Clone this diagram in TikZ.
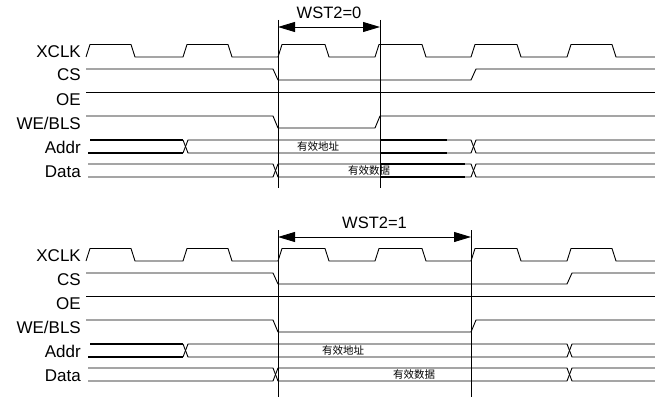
\documentclass[tikz,border=0pt]{standalone}
\usepackage{fontspec}
\setmainfont{Liberation Sans}
\newfontfamily\cjk{Noto Sans CJK SC}
\usetikzlibrary{arrows.meta}
\tikzset{
 sig/.style={line width=0.9pt, black, line join=miter},
 vline/.style={line width=0.9pt, black},
 dimarrow/.style={line width=0.9pt, {Triangle[length=17pt,width=10pt]}-{Triangle[length=17pt,width=10pt]}},
 lab/.style={anchor=base east, inner sep=0pt, font=\fontsize{17}{17}\selectfont},
 cn/.style={inner sep=0pt, font=\cjk\fontsize{10.5}{10.5}\selectfont},
 wst/.style={inner sep=0pt, font=\fontsize{16.5}{16.5}\selectfont},
 busbold/.style={line width=1.15pt}
}
% #1 prefix, #2 y offset, #3 WST text, #4 right vline x, #5 WE rise x,
% #6 CS rise / bus cross x, #7 addr label x, #8 data label x, #9 extra offset
\newcommand\timingdiagram[9]{%
\begin{scope}[shift={(0,#2)}]
 \node[lab] (#1xclk) at (81,57) {XCLK};
 \node[lab] (#1cs) at (81,81) {CS};
 \node[lab] (#1oe) at (81,105) {OE};
 \node[lab] (#1we) at (81,129) {WE/BLS};
 \node[lab] (#1addr) at (81,153) {Addr};
 \node[lab] (#1data) at (81,177) {Data};
 % clock
 \draw[sig] (86,57) -- (90,44.5) -- (131,44.5) -- (135,57) -- (183,57) -- (187,44.5) -- (228,44.5) -- (232,57)
   -- (278,57) -- (282,44.5) -- (325,44.5) -- (329,57) -- (375,57) -- (379,44.5) -- (422,44.5) -- (426,57)
   -- (471,57) -- (475,44.5) -- (517,44.5) -- (521,57) -- (567,57) -- (571,44.5) -- (612,44.5) -- (616,57) -- (655,57);
 % CS
 \draw[sig] (86,69) -- (273,69) -- (278,80) -- (#6,80) -- ({#6+5},69) -- (655,69);
 % OE
 \draw[sig] (86,92) -- (655,92);
 % WE
 \draw[sig] (86,116) -- (273,116) -- (278,128) -- (#5,128) -- ({#5+5},116) -- (655,116);
 % Addr
 \draw[sig,busbold] (90,140) -- (183,140);
 \draw[sig,busbold] (88,153) -- (183,153);
 \draw[sig] (183,140) -- (188,153) -- (#6,153) -- ({#6+5},140) -- (655,140);
 \draw[sig] (183,153) -- (188,140) -- (#6,140) -- ({#6+5},153) -- (655,153);
 % Data
 \draw[sig] (88,164) -- (273,164) -- (278,177) -- (#6,177) -- ({#6+5},164) -- (655,164);
 \draw[sig] (88,177) -- (273,177) -- (278,164) -- (#6,164) -- ({#6+5},177) -- (655,177);
 \node[cn] (#1alab) at (#7,147) {有效地址};
 \node[cn] (#1dlab) at (#8,171) {有效数据};
 % markers
 \coordinate (#1v1t) at (278,{20+#9});
 \coordinate (#1v1b) at (278,{188+#9});
 \coordinate (#1v2t) at (#4,{20+#9});
 \coordinate (#1v2b) at (#4,{188+#9});
 \draw[vline] (#1v1t) -- (#1v1b);
 \draw[vline] (#1v2t) -- (#1v2b);
 \coordinate (#1a1) at (278,{27+#9});
 \coordinate (#1a2) at (#4,{27+#9});
 \draw[dimarrow] (#1a1) -- (#1a2);
 \node[wst] (#1wst) at ({(278+#4)/2},{13+#9}) {#3};
\end{scope}}
\begin{document}
\begin{tikzpicture}[x=1pt,y=-1pt]
\useasboundingbox (0,0) rectangle (655,396);
\timingdiagram{t}{0}{WST2=0}{380}{375}{471}{318}{369}{0}
\draw[sig,busbold] (380,140) -- (447,140);
\draw[sig,busbold] (380,153) -- (447,153);
\draw[sig,busbold] (380,164) -- (465,164);
\draw[sig,busbold] (380,177) -- (465,177);
\timingdiagram{b}{204}{WST2=1}{471}{471}{567}{343}{414}{6}
\end{tikzpicture}
\end{document}
